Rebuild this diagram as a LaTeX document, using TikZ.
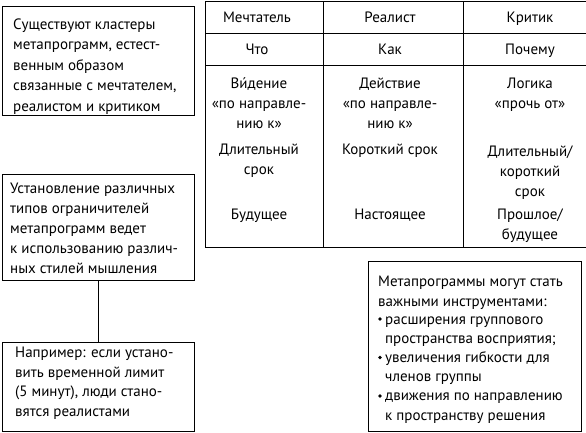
\documentclass[tikz,border=0pt]{standalone}
\usepackage{fontspec}
\setmainfont{PT Sans}
\begin{document}
\begin{tikzpicture}[x=1pt,y=-1pt,
  every node/.style={font=\fontsize{15}{20}\selectfont, inner sep=0pt},
  box/.style={draw, line width=1pt, anchor=north west},
  txt/.style={align=left, anchor=base west},
  ctxt/.style={align=center, anchor=base},
  tline/.style={line width=1pt}]
\useasboundingbox (0,0) rectangle (586,432);
% left boxes
\node[box, minimum width=192pt, minimum height=109pt] (b1) at (2,6) {};
\node[txt, font=\fontsize{15}{20.5}\selectfont] (t1) at (13,111) {Существуют кластеры\\метапрограмм, естест-\\венным образом\\связанные с мечтателем,\\реалистом и критиком};
\node[box, minimum width=192pt, minimum height=106pt] (b2) at (2,174) {};
\node[txt] (t2) at (10,273) {Установление различных\\типов ограничителей\\метапрограмм ведет\\к использованию различ-\\ных стилей мышления};
\node[box, minimum width=192pt, minimum height=89pt] (b3) at (2,342) {};
\node[txt, font=\fontsize{15}{19.5}\selectfont] (t3) at (15,416) {Например: если устано-\\вить временной лимит\\(5 минут), люди стано-\\вятся реалистами};
\draw[tline] (b2.south) -- (b3.north);
% right bottom box
\node[box, minimum width=213pt, minimum height=170pt] (b4) at (368,261) {};
\node[txt] (t4) at (378,306) {Метапрограммы могут стать\\важными инструментами:};
\node[txt, font=\fontsize{15}{19.2}\selectfont] (t5) at (385,420) {расширения группового\\пространства восприятия;\\увеличения гибкости для\\членов группы\\движения по направлению\\к пространству решения};
\foreach \yy/\nm in {319/d1,357.5/d2,396/d3}
  \fill (380,\yy) circle (1.9pt);
% table
\node[draw, line width=1pt, anchor=north west, minimum width=382pt, minimum height=246pt] (tab) at (205,1) {};
\draw[tline] (205,33) -- (587,33);
\draw[tline] (205,65) -- (587,65);
\draw[tline] (323,1) -- (323,247);
\draw[tline] (463,1) -- (463,247);
\node[ctxt] (h1) at (257,22) {Мечтатель};
\node[ctxt] (h2) at (390,22) {Реалист};
\node[ctxt] (h3) at (530,22) {Критик};
\node[ctxt] (q1) at (257,54) {Что};
\node[ctxt] (q2) at (390,54) {Как};
\node[ctxt] (q3) at (530,54) {Почему};
\node[ctxt] (r1) at (259,128) {Ви́дение\\«по направле-\\нию к»};
\node[ctxt] (r2) at (390,128) {Действие\\«по направле-\\нию к»};
\node[ctxt] (r3) at (530,108) {Логика\\«прочь от»};
\node[ctxt] (s1) at (259,174) {Длительный\\срок};
\node[ctxt] (s2) at (390,154) {Короткий срок};
\node[ctxt] (s3) at (530,196) {Длительный/\\короткий\\срок};
\node[ctxt] (u1) at (259,219) {Будущее};
\node[ctxt] (u2) at (390,219) {Настоящее};
\node[ctxt] (u3) at (530,239) {Прошлое/\\будущее};
\end{tikzpicture}
\end{document}
